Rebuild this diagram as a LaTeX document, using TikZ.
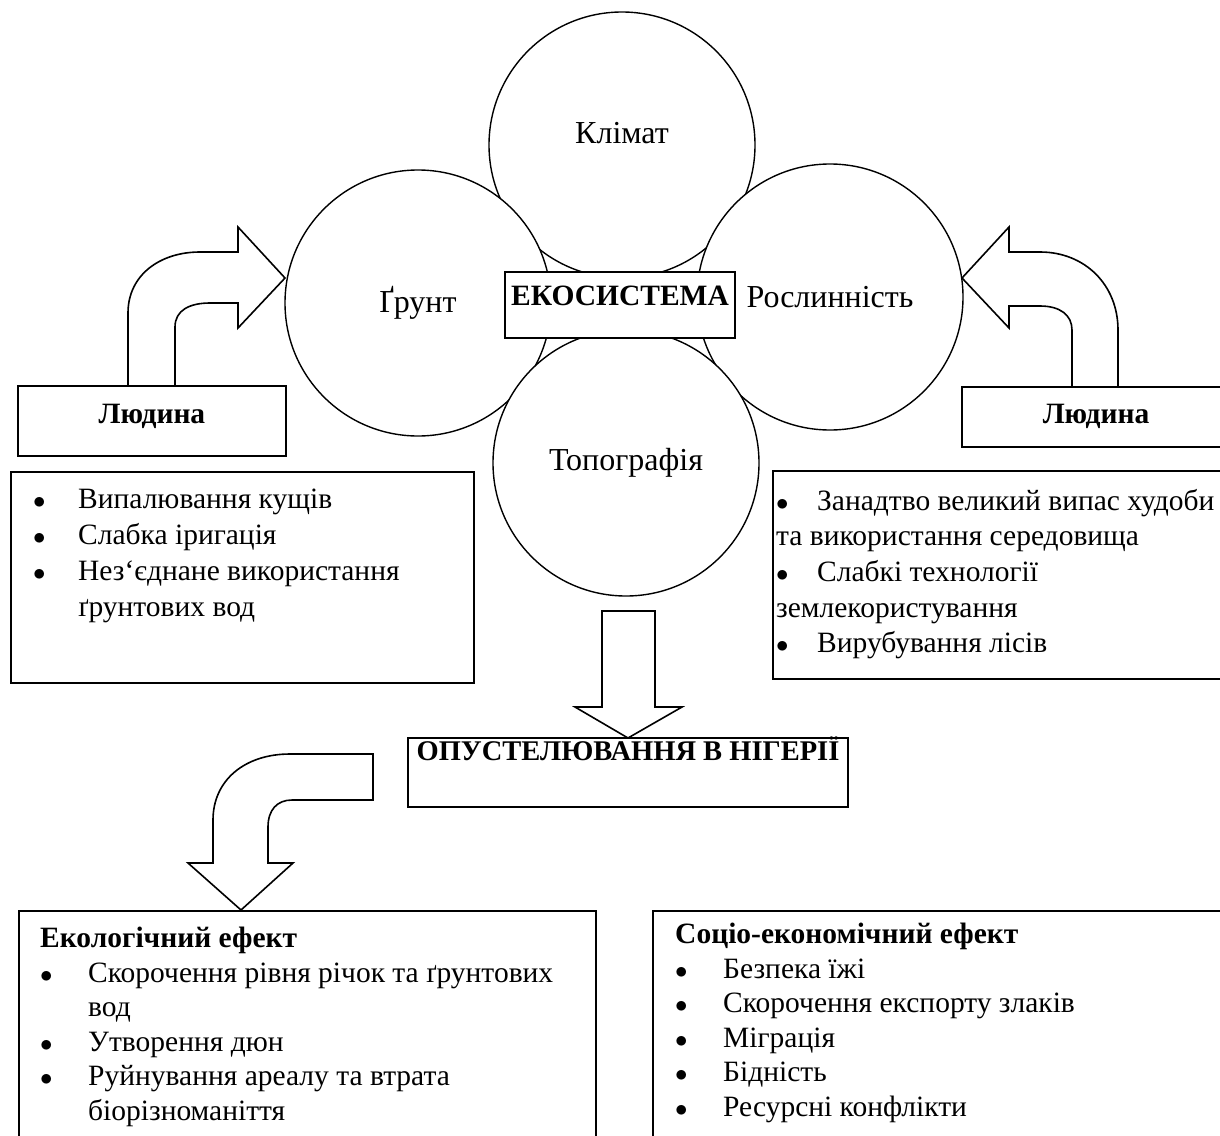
\documentclass[tikz,border=0pt]{standalone}
\usepackage{fontspec}
\setmainfont{Liberation Serif}
\usetikzlibrary{positioning}

\newcommand{\punkt}{$\bullet$}

\tikzset{
  kolo/.style={draw, circle, fill=white, line width=1.4pt, minimum size=266pt, inner sep=0pt,
               font=\fontsize{32}{36}\selectfont},
  ramka/.style={draw, fill=white, line width=1.8pt, inner sep=0pt},
  strilka/.style={draw, fill=white, line width=1.6pt, line join=miter},
  spysok/.style={anchor=north west, inner sep=0pt},
}

\begin{document}
\begin{tikzpicture}[x=1pt, y=-1pt]
\fontsize{29.5}{34}\selectfont
\useasboundingbox (0,0) rectangle (1220,1135);
%----------------------------------------------------------
	% Circles of the ecosystem
	%------------------------------------------------------
	\node[kolo, text height=22pt, text depth=25pt] (Klimat) at (622,145) {Клімат};
	\node[kolo] (Grunt)  at (418,303) {Ґрунт};
	\node[kolo] (Roslyn) at (830,297) {Рослинність};
	\node[kolo] (Topo)   at (626,463) {Топографія};

	\node[ramka, minimum width=230pt, minimum height=66pt, font=\bfseries,
	      text height=19pt, text depth=19pt] (Eko) at (620,305) {ЕКОСИСТЕМА};

	% Coordinates of the arrows
	%------------------------------------------------------
	\coordinate (ArrLTip) at (285,278);
	\coordinate (ArrRTip) at (962,278);
	\coordinate (ArrDTip) at (628,738);
	\coordinate (ArrBTip) at (241,910);

	%Arrows
	%------------------------------------------------------
	\draw[strilka] (128,386) -- (128,313) .. controls (128,275) and (160,252) .. (200,252)
	  -- (238,252) -- (238,227) -- (ArrLTip) -- (238,328) -- (238,303) -- (210,303)
	  .. controls (190,303) and (175,310) .. (175,327) -- (175,386) -- cycle;
	\draw[strilka] (1118,387) -- (1118,330) .. controls (1118,285) and (1085,252) .. (1040,252)
	  -- (1009,252) -- (1009,227) -- (ArrRTip) -- (1009,328) -- (1009,306) -- (1040,306)
	  .. controls (1060,306) and (1072,315) .. (1072,330) -- (1072,387) -- cycle;
	\draw[strilka] (602,611) -- (655,611) -- (655,707) -- (682,707) -- (ArrDTip)
	  -- (575,707) -- (602,707) -- cycle;
	\draw[strilka] (373,754) -- (290,754) .. controls (245,754) and (213,780) .. (213,820)
	  -- (213,863) -- (188,863) -- (ArrBTip) -- (293,863) -- (268,863) -- (268,827)
	  .. controls (268,810) and (277,800) .. (292,800) -- (373,800) -- cycle;

	%Boxes
	%------------------------------------------------------
	\node[ramka, minimum width=268pt, minimum height=70pt, font=\bfseries,
	      text height=19pt, text depth=15pt] (LudL) at (152,421) {Людина};
	\node[ramka, minimum width=268pt, minimum height=60pt, font=\bfseries,
	      text height=19pt, text depth=7pt] (LudR) at (1096,417) {Людина};
	\node[ramka, minimum width=440pt, minimum height=69pt, font=\fontsize{28.5}{32}\bfseries,
	      text height=19pt, text depth=44pt] (Opust) at (628,772.5) {ОПУСТЕЛЮВАННЯ В НІГЕРІЇ};

	\node[ramka, anchor=north west, minimum width=463pt, minimum height=211pt] (ListL) at (10,471) {};
	\node[ramka, anchor=north west, minimum width=470pt, minimum height=208pt] (ListR) at (772,470) {};
	\node[ramka, anchor=north west, minimum width=577pt, minimum height=260pt] (EffL) at (18,910) {};
	\node[ramka, anchor=north west, minimum width=600pt, minimum height=260pt] (EffR) at (652,910) {};

	%Texts of the lists
	%------------------------------------------------------
	\node[spysok] (ListLText) at (33,483) {\renewcommand{\arraystretch}{1.06}%
	  \begin{tabular}{@{}p{45pt}@{}l@{}}
	  \punkt & Випалювання кущів\\
	  \punkt & Слабка іригація\\
	  \punkt & Нез‘єднане використання\\
	         & ґрунтових вод
	  \end{tabular}};
	\node[spysok] (ListRText) at (776,485) {\renewcommand{\arraystretch}{1.05}%
	  \begin{tabular}{@{}p{41pt}@{}l@{}}
	  \punkt & Занадтво великий випас худоби\\
	  \multicolumn{2}{@{}l@{}}{та використання середовища}\\
	  \punkt & Слабкі технології\\
	  \multicolumn{2}{@{}l@{}}{землекористування}\\
	  \punkt & Вирубування лісів
	  \end{tabular}};
	\node[spysok] (EffLText) at (40,923) {\renewcommand{\arraystretch}{1.018}%
	  \begin{tabular}{@{}p{48pt}@{}l@{}}
	  \multicolumn{2}{@{}l@{}}{\textbf{Екологічний ефект}}\\
	  \punkt & Скорочення рівня річок та ґрунтових\\
	         & вод\\
	  \punkt & Утворення дюн\\
	  \punkt & Руйнування ареалу та втрата\\
	         & біорізноманіття
	  \end{tabular}};
	\node[spysok] (EffRText) at (675,919) {\renewcommand{\arraystretch}{1.018}%
	  \begin{tabular}{@{}p{48pt}@{}l@{}}
	  \multicolumn{2}{@{}l@{}}{\textbf{Соціо-економічний ефект}}\\
	  \punkt & Безпека їжі\\
	  \punkt & Скорочення експорту злаків\\
	  \punkt & Міграція\\
	  \punkt & Бідність\\
	  \punkt & Ресурсні конфлікти
	  \end{tabular}};
\end{tikzpicture}
\end{document}
